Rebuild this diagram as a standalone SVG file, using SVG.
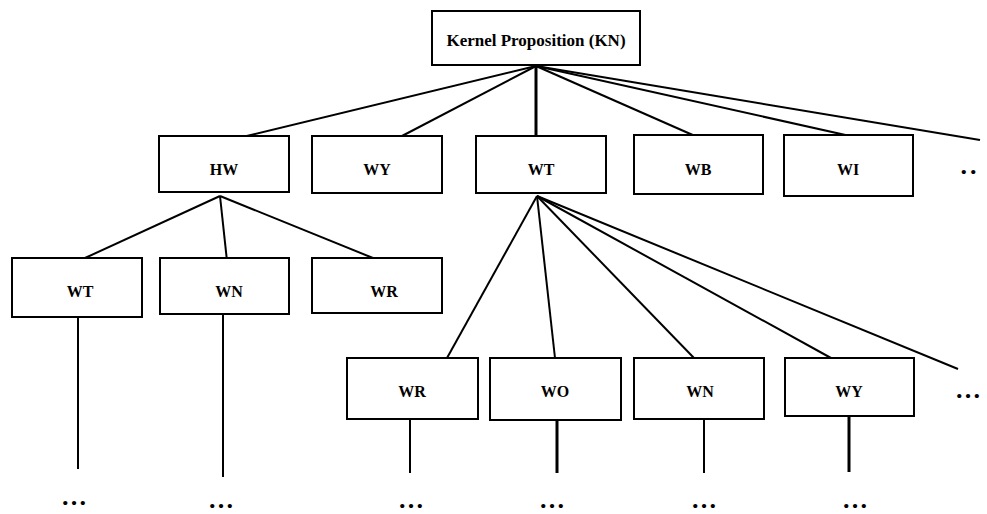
<svg xmlns="http://www.w3.org/2000/svg" width="987" height="514" viewBox="0 0 987 514">
<style>
.box rect{fill:#fff;stroke:#000;stroke-width:2}
.lbl{font-family:"Liberation Serif","Times New Roman",serif;font-weight:bold;font-size:16px;text-anchor:middle;fill:#000}
.kn{font-size:17px}
.dots{font-family:"Liberation Serif","Times New Roman",serif;font-weight:bold;font-size:26px;text-anchor:middle;fill:#000}
#connectors line{stroke:#000;stroke-width:2}
#connectors line.thick{stroke-width:3}
</style>
<rect width="987" height="514" fill="#fff"/>
<g id="connectors">
<line x1="536" y1="66" x2="234" y2="139"/>
<line x1="536" y1="66" x2="402" y2="136"/>
<line class="thick" x1="536" y1="66" x2="536" y2="136"/>
<line x1="536" y1="66" x2="695" y2="136"/>
<line x1="536" y1="66" x2="850" y2="136"/>
<line x1="536" y1="66" x2="980" y2="140"/>
<line x1="220" y1="196" x2="85" y2="258"/>
<line x1="220" y1="196" x2="227" y2="261"/>
<line x1="220" y1="196" x2="373" y2="258"/>
<line x1="537" y1="196" x2="447" y2="358"/>
<line x1="537" y1="196" x2="555" y2="358"/>
<line x1="537" y1="196" x2="694" y2="358"/>
<line x1="537" y1="196" x2="831" y2="358"/>
<line x1="537" y1="196" x2="958" y2="369"/>
<line x1="78" y1="317" x2="78" y2="469"/>
<line x1="223" y1="314" x2="223" y2="477"/>
<line x1="410" y1="419" x2="410" y2="473"/>
<line class="thick" x1="557" y1="420" x2="557" y2="473"/>
<line x1="704" y1="419" x2="704" y2="473"/>
<line class="thick" x1="849" y1="416" x2="849" y2="472"/>
</g>
<g id="kn" class="box"><rect x="432" y="11" width="208" height="54"/><text class="lbl kn" x="536" y="46">Kernel Proposition (KN)</text></g>
<g id="hw" class="box"><rect x="159" y="136" width="130" height="56"/><text class="lbl" x="224" y="175">HW</text></g>
<g id="wy1" class="box"><rect x="312" y="136" width="130" height="57"/><text class="lbl" x="377" y="175">WY</text></g>
<g id="wt1" class="box"><rect x="476" y="136" width="130" height="57"/><text class="lbl" x="541" y="175">WT</text></g>
<g id="wb" class="box"><rect x="634" y="135" width="129" height="59"/><text class="lbl" x="698" y="175">WB</text></g>
<g id="wi" class="box"><rect x="784" y="135" width="129" height="61"/><text class="lbl" x="848" y="175">WI</text></g>
<text id="more1" class="dots" x="970" y="174" letter-spacing="3">..</text>
<g id="wt2" class="box"><rect x="12" y="258" width="130" height="59"/><text class="lbl" x="80" y="297">WT</text></g>
<g id="wn2" class="box"><rect x="160" y="258" width="129" height="56"/><text class="lbl" x="229" y="297">WN</text></g>
<g id="wr2" class="box"><rect x="312" y="258" width="130" height="55"/><text class="lbl" x="384" y="297">WR</text></g>
<g id="wr3" class="box"><rect x="347" y="358" width="131" height="61"/><text class="lbl" x="412" y="397">WR</text></g>
<g id="wo3" class="box"><rect x="490" y="358" width="131" height="62"/><text class="lbl" x="555" y="397">WO</text></g>
<g id="wn3" class="box"><rect x="634" y="358" width="130" height="61"/><text class="lbl" x="700" y="397">WN</text></g>
<g id="wy3" class="box"><rect x="785" y="358" width="129" height="58"/><text class="lbl" x="849" y="397">WY</text></g>
<text id="more2" class="dots" x="968" y="398">…</text>
<text id="d1" class="dots" x="74" y="505">…</text>
<text id="d2" class="dots" x="221" y="508">…</text>
<text id="d3" class="dots" x="411" y="508">…</text>
<text id="d4" class="dots" x="552" y="508">…</text>
<text id="d5" class="dots" x="704" y="508">…</text>
<text id="d6" class="dots" x="855" y="508">…</text>
</svg>
